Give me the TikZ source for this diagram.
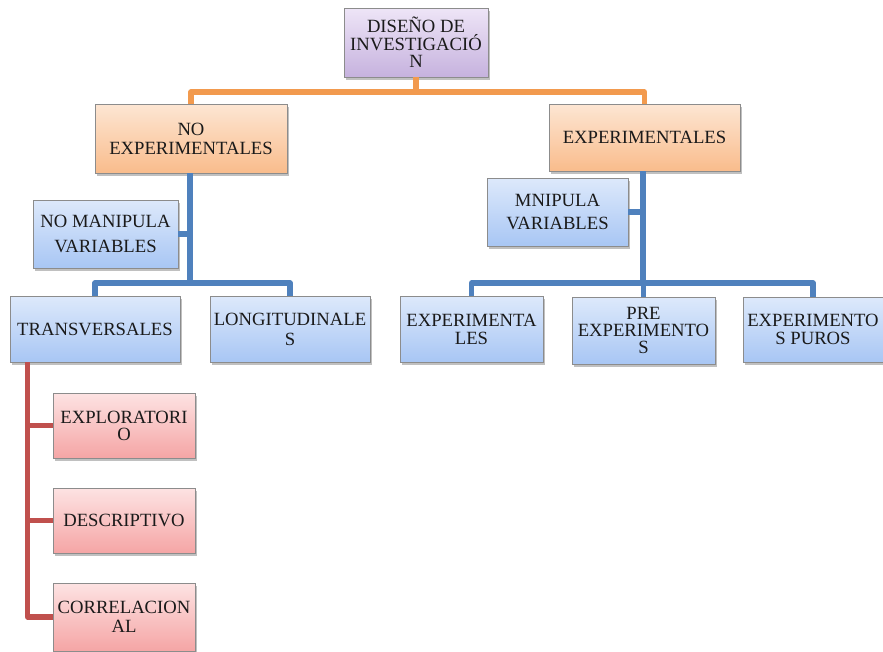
\documentclass[tikz,border=0pt]{standalone}
\usepackage{fontspec}
\setmainfont{Liberation Serif}
\usetikzlibrary{shadows}

\definecolor{lavTop}{HTML}{EEE5F7}
\definecolor{lavBot}{HTML}{C6B2DE}
\definecolor{orTop}{HTML}{FDE6D3}
\definecolor{orBot}{HTML}{F9BC8C}
\definecolor{blTop}{HTML}{DDE9FB}
\definecolor{blBot}{HTML}{A8C6F4}
\definecolor{rdTop}{HTML}{FDE3E3}
\definecolor{rdBot}{HTML}{F5A5A5}
\definecolor{orLine}{HTML}{F29A4E}
\definecolor{blLine}{HTML}{4F81BD}
\definecolor{rdLine}{HTML}{C0504D}
\definecolor{boxEdge}{HTML}{8C8C8C}
\definecolor{ink}{HTML}{1A1A1A}

\tikzset{
  box/.style={rectangle, draw=boxEdge, line width=0.6pt, align=center,
    inner sep=1pt, text=ink, font=\fontsize{14}{13}\selectfont,
    drop shadow={shadow xshift=1.8pt, shadow yshift=-2pt, opacity=0.35, fill=black!70}},
  % line spacing in pt
  lead/.style={font=\fontsize{14}{#1}\selectfont},
  sz/.style 2 args={minimum width=#1*0.75pt, minimum height=#2*0.75pt},
  lavbox/.style={box, top color=lavTop, bottom color=lavBot},
  orbox/.style={box, top color=orTop, bottom color=orBot},
  blbox/.style={box, top color=blTop, bottom color=blBot},
  rdbox/.style={box, top color=rdTop, bottom color=rdBot},
  link/.style={line width=3.8pt, line join=round},
  orlink/.style={link, draw=orLine},
  bllink/.style={link, draw=blLine},
  rdlink/.style={link, draw=rdLine},
}

\begin{document}
\begin{tikzpicture}[x=0.75pt, y=-0.75pt]
  \useasboundingbox (0,0) rectangle (883,651);
  \clip (0,0) rectangle (883,651);
  \fill[white] (0,0) rectangle (883,651);

  % root
  \node[lavbox, lead=13.1pt, sz={144}{69}] (root) at (416,42.5) {DISEÑO DE\\INVESTIGACIÓ\\N};

  % first level
  \node[orbox, lead=14.25pt, sz={192}{69}] (noexp) at (191,138.5) {NO\\EXPERIMENTALES};
  \node[orbox, sz={191}{67}] (exp) at (644.5,137.5) {EXPERIMENTALES};

  % side notes
  \node[blbox, lead=18.75pt, sz={145}{68}] (nomanip) at (105.5,234) {NO MANIPULA\\VARIABLES};
  \node[blbox, lead=17.25pt, sz={141}{68}] (manip) at (557.5,212) {MNIPULA\\VARIABLES};

  % second level, left
  \node[blbox, sz={170}{66}] (trans) at (95,329) {TRANSVERSALES};
  \node[blbox, lead=15pt, sz={160}{66}] (longi) at (290,329) {LONGITUDINALE\\S};

  % second level, right
  \node[blbox, lead=13.5pt, sz={143}{66}] (exper) at (471.5,329) {EXPERIMENTA\\LES};
  \node[blbox, lead=13.1pt, sz={143}{67}] (pre) at (643.5,330.5) {PRE\\EXPERIMENTO\\S};
  \node[blbox, lead=13.5pt, sz={140}{65}] (puros) at (813,329.5) {EXPERIMENTO\\S PUROS};

  % third level under TRANSVERSALES
  \node[rdbox, lead=12.75pt, sz={142}{65}] (explo) at (124,425.5) {EXPLORATORI\\O};
  \node[rdbox, sz={142}{65}] (desc) at (124,520.5) {DESCRIPTIVO};
  \node[rdbox, lead=13.9pt, sz={142}{68}] (corr) at (124,617) {CORRELACION\\AL};

  % orange connectors
  \coordinate (obar) at (416,92);
  \draw[orlink] (root.south) -- (obar);
  \draw[orlink] (noexp.north) |- (obar) -| (exp.north);

  % blue connectors, left branch
  \coordinate (lbar) at (190,283);
  \draw[bllink] (noexp.south -| lbar) -- (lbar);
  \draw[bllink] (trans.north) |- (lbar) -| (longi.north);
  \draw[bllink] (nomanip.east) -- (nomanip.east -| lbar);

  % blue connectors, right branch
  \coordinate (rbar) at (643,283);
  \draw[bllink] (exp.south -| rbar) -- (rbar);
  \draw[bllink] (exper.north) |- (rbar) -| (puros.north);
  \draw[bllink] (pre.north) -- (pre.north |- rbar);
  \draw[bllink] (manip.east) -- (manip.east -| rbar);

  % red spine with branches
  \coordinate (sp) at ([xshift=13.5pt]trans.south west);
  \draw[rdlink] (sp) |- (corr.west);
  \draw[rdlink] (sp |- explo.west) -- (explo.west);
  \draw[rdlink] (sp |- desc.west) -- (desc.west);
\end{tikzpicture}
\end{document}
